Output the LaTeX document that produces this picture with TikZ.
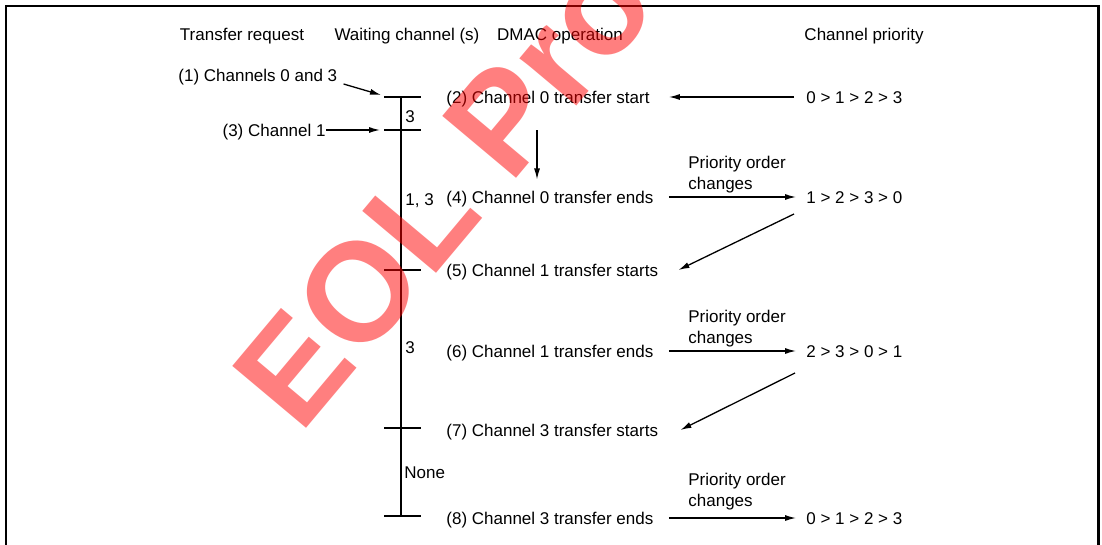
\documentclass[tikz,border=0pt]{standalone}
\usepackage{fontspec}
\setmainfont{Liberation Sans}
\usetikzlibrary{arrows.meta,positioning,calc}

\tikzset{
  lbl/.style={inner sep=0pt, text height=6.1pt, text depth=0pt,
    font=\fontsize{8.5}{10}\selectfont},
  chglbl/.style={inner sep=0pt, align=left, anchor=south west,
    font=\fontsize{8.5}{10.5}\selectfont},
  conn/.style={line width=0.65pt, -{Latex[length=5.5pt,width=3pt]}},
  tickmark/.style={line width=0.75pt},
}

\begin{document}
\begin{tikzpicture}[x=0.5pt,y=-0.5pt]

\def\tlx{401}   % time line
\def\opx{446}   % DMAC operation column
\def\prx{806}   % priority column

\clip (0,0) rectangle (1102,545);

% Frame, open at the bottom
\draw[line width=1.15pt] (6,545) -- (6,6) -- (1098.5,6) -- (1098.5,545);

% Column headings
\node[lbl] (hreq)  at (242,34) {Transfer request};
\node[lbl] (hwait) at (407,34) {Waiting channel (s)};
\node[lbl] (hdmac) at (560,34) {DMAC operation};
\node[lbl] (hprio) at (864,34) {Channel priority};

% Time line with its ticks
\coordinate (t1) at (\tlx,97);
\coordinate (t2) at (\tlx,130);
\coordinate (t3) at (\tlx,270);
\coordinate (t4) at (\tlx,428);
\coordinate (t5) at (\tlx,516);
\draw[line width=0.9pt] (t1) -- (t5);
\foreach \t in {t1,t2,t3,t4,t5}
  \draw[tickmark] ($(\t)+(-17,0)$) -- ($(\t)+(20,0)$);

% Waiting channels
\node[lbl, anchor=west] (w1) at (405,116) {3};
\node[lbl, anchor=west] (w2) at (405,199) {1, 3};
\node[lbl, anchor=west] (w3) at (405,347) {3};
\node[lbl, anchor=west] (w4) at (404,472) {None};

% Transfer requests
\node[lbl, anchor=west] (req1) at (178,75) {(1) Channels 0 and 3};
\node[lbl, anchor=east] (req3) at (326,130) {(3) Channel 1};
\draw[conn] ($(req1.east)+(6,9)$) -- ($(t1)+(-20,-2)$);
\draw[conn] (req3.east) -- ($(t2)+(-21,0)$);

% DMAC operation
\node[lbl, anchor=west] (op2) at (\opx,97)  {(2) Channel 0 transfer start};
\node[lbl, anchor=west] (op4) at (\opx,197) {(4) Channel 0 transfer ends};
\node[lbl, anchor=west] (op5) at (\opx,270) {(5) Channel 1 transfer starts};
\node[lbl, anchor=west] (op6) at (\opx,351) {(6) Channel 1 transfer ends};
\node[lbl, anchor=west] (op7) at (\opx,430) {(7) Channel 3 transfer starts};
\node[lbl, anchor=west] (op8) at (\opx,518) {(8) Channel 3 transfer ends};

% Channel priority
\node[lbl, anchor=west] (pr2) at (\prx,97)  {0 > 1 > 2 > 3};
\node[lbl, anchor=west] (pr4) at (\prx,197) {1 > 2 > 3 > 0};
\node[lbl, anchor=west] (pr6) at (\prx,351) {2 > 3 > 0 > 1};
\node[lbl, anchor=west] (pr8) at (\prx,518) {0 > 1 > 2 > 3};

\node[chglbl] (chg4) at (688,193) {Priority order\\changes};
\node[chglbl] (chg6) at (688,347) {Priority order\\changes};
\node[chglbl] (chg8) at (688,510) {Priority order\\changes};

% Connectors
\draw[conn] ($(pr2.west)+(-12,0)$) -- ($(op2.east)+(19,0)$);
\draw[conn] ($(op2.south west)+(91,27)$) -- ($(op4.north west)+(91,-11)$);
\draw[conn] ($(op4.east)+(15,0)$) -- ($(pr4.west)+(-10,0)$);
\draw[conn] ($(pr4.west)+(-12,17)$) -- ($(op5.east)+(20,0)$);
\draw[conn] ($(op6.east)+(15,0)$) -- ($(pr6.west)+(-10,0)$);
\draw[conn] ($(pr6.west)+(-11,22)$) -- ($(op7.east)+(22,0)$);
\draw[conn] ($(op8.east)+(15,0)$) -- ($(pr8.west)+(-10,0)$);

% Watermark
\node[rotate=50, anchor=base west, inner sep=0pt, text=red, text opacity=0.5,
  font=\bfseries\fontsize{70}{70}\selectfont] (wm) at (300,436) {EOL Products};

\end{tikzpicture}
\end{document}
